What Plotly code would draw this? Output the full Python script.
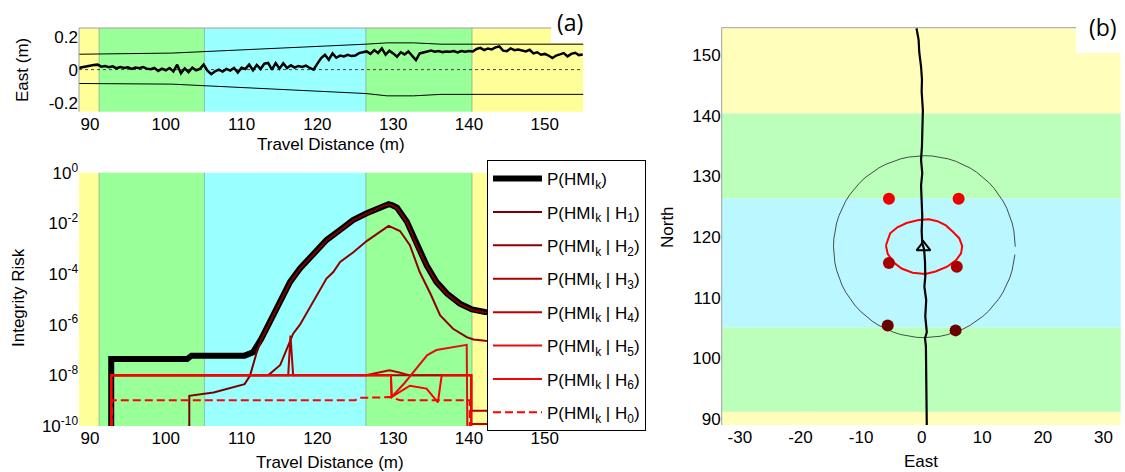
import numpy as np
import plotly.graph_objects as go

W, H = 1125, 472
FONT = "Liberation Sans, Arial, Helvetica, sans-serif"

# ---------------- data: panel (a) top ----------------
X_RANGE = [88.55, 155.08]
BAND_EDGES = [91.2, 105.1, 126.4, 140.4]          # travel distance / north of zone changes
BAND_COLORS_A = ["#FFFF99", "#99FF99", "#99FFFF", "#99FF99", "#FFFF99"]
BAND_COLORS_B = ["#FFFFBB", "#BBFFBB", "#BBF7FF", "#BBFFBB", "#FFFFBB"]

east_err = [0.010, 0.015, 0.020, 0.024, 0.028, 0.030, 0.018, 0.022, 0.015, 0.020,
            0.008, 0.016, 0.010, 0.014, 0.004, 0.012, 0.008, 0.015, 0.006, 0.002,
            0.010, -0.008, 0.006, -0.004, 0.010, -0.012, 0.030, -0.022, 0.008, -0.015,
            0.012, -0.004, 0.004, 0.030, -0.006, -0.028, -0.010, 0.000, -0.012, 0.004,
            -0.006, 0.010, -0.018, 0.012, 0.004, 0.030, -0.004, 0.028, 0.004, 0.036,
            0.040, 0.000, 0.040, 0.006, 0.038, 0.010, 0.026, 0.012, 0.022, 0.016,
            0.024, 0.010, 0.000, 0.036, 0.070, 0.090, 0.060, 0.098, 0.072, 0.085,
            0.080, 0.090, 0.082, 0.085, 0.100, 0.105, 0.110, 0.095, 0.118, 0.100,
            0.128, 0.090, 0.115, 0.098, 0.078, 0.105, 0.092, 0.110, 0.085, 0.058,
            0.098, 0.105, 0.112, 0.115, 0.108, 0.112, 0.106, 0.110, 0.108, 0.112,
            0.104, 0.112, 0.108, 0.112, 0.110, 0.125, 0.132, 0.118, 0.128, 0.122,
            0.135, 0.140, 0.115, 0.112, 0.128, 0.118, 0.122, 0.115, 0.110, 0.120,
            0.098, 0.105, 0.090, 0.095, 0.085, 0.070, 0.085, 0.092, 0.100, 0.080,
            0.095, 0.102, 0.088, 0.092]
east_dist = np.linspace(88.5, 155.0, len(east_err))

bound_dist = [88.3, 100.8, 126.4, 129.2, 132.7, 136.3, 155.3]
bound_upper = [0.093, 0.100, 0.154, 0.162, 0.162, 0.154, 0.154]
bound_lower = [-0.084, -0.088, -0.145, -0.159, -0.159, -0.150, -0.150]

# ---------------- data: panel (a) bottom (integrity risk) ----------------
LOW = 1e-11  # below axis floor
phmi_x = [92.8, 92.8, 102.8, 103.4, 110.4, 111.5, 112.6, 113.7, 115.1, 116.4, 117.7,
          119.5, 121.2, 123.0, 124.7, 126.5, 127.5, 128.3, 128.8, 129.4, 129.9, 130.5,
          131.8, 133.1, 134.4, 135.7, 137.1, 138.8, 140.4, 142.1, 146.0, 150.0, 155.0]
phmi_y = [LOW, 4.4e-8, 4.4e-8, 6.0e-8, 6.0e-8, 8.1e-8, 2.75e-7, 1.26e-6, 9.1e-6, 4.9e-5, 1.66e-4,
          6.5e-4, 2.2e-3, 5.5e-3, 1.35e-2, 2.5e-2, 3.4e-2, 4.2e-2, 5.2e-2, 5.75e-2, 5.2e-2, 4.2e-2,
          1.17e-2, 1.38e-3, 2.24e-4, 4.9e-5, 1.7e-5, 6.8e-6, 4.0e-6, 3.2e-6, 3.0e-6, 2.9e-6, 2.8e-6]

h1_x = [103.1, 103.1, 106.3, 110.4, 111.1, 112.0, 112.6, 113.7, 115.1, 116.4, 117.7,
        119.5, 121.2, 123.0, 124.7, 126.5, 127.5, 128.3, 128.8, 129.4, 129.9, 130.5,
        131.8, 133.1, 134.4, 135.7, 137.1, 138.8, 140.4, 142.1, 146.0, 150.0, 155.0]
h1_y = [LOW, 1.55e-9, 2.1e-9, 4.5e-9, 9.5e-9, 8.1e-8, 2.6e-7, 1.2e-6, 8.7e-6, 4.7e-5, 1.6e-4,
        6.2e-4, 2.1e-3, 5.3e-3, 1.3e-2, 2.4e-2, 3.3e-2, 4.0e-2, 5.0e-2, 5.5e-2, 5.0e-2, 4.0e-2,
        1.12e-2, 1.32e-3, 2.15e-4, 4.7e-5, 1.6e-5, 6.5e-6, 3.8e-6, 3.0e-6, 2.9e-6, 2.8e-6, 2.7e-6]

h2_x = [92.8, 92.8, 113.3, 113.7, 115.1, 116.8, 117.7, 118.6, 119.5, 120.3, 121.2, 122.1, 123.0,
        124.7, 126.5, 128.3, 129.4, 130.9, 132.2, 133.5, 134.9, 136.2, 137.9, 139.7, 140.6,
        142.1, 155.0]
h2_y = [LOW, 1e-8, 1e-8, 1.12e-8, 2.57e-8, 4.4e-7, 1.0e-6, 3.0e-6, 7.9e-6, 2.3e-5, 6.6e-5, 1.2e-4,
        3.0e-4, 7.1e-4, 2.0e-3, 4.7e-3, 7.9e-3, 5.0e-3, 1.38e-3, 1.2e-4, 1.7e-5, 2.3e-6, 6.9e-7,
        3.2e-7, 2.6e-7, 2.3e-7, 2.2e-7]

h3_x = [92.8, 92.8, 116.15, 116.45, 116.8, 140.3, 140.3, 155.0]
h3_y = [LOW, 1e-8, 1e-8, 3.7e-7, 1e-8, 1e-8, 4e-10, 4e-10]

h4_x = [92.8, 92.8, 126.4, 128.0, 129.5, 130.8, 132.2, 140.3, 140.3, 155.0]
h4_y = [LOW, 1e-8, 1e-8, 1.3e-8, 1.6e-8, 1.3e-8, 1e-8, 1e-8, 1.2e-10, 1.2e-10]

h5_x = [92.8, 92.8, 129.7, 129.8, 131.5, 133.1, 134.5, 135.7, 137.9, 139.7, 139.8]
h5_y = [LOW, 1e-8, 1e-8, 1.4e-9, 5e-9, 2e-8, 6.3e-8, 1e-7, 1.26e-7, 1.6e-7, LOW]

h6_x = [92.8, 92.8, 129.7, 129.8, 132.2, 134.4, 135.9, 136.4, 140.3, 140.3]
h6_y = [LOW, 1e-8, 1e-8, 1.4e-9, 3.9e-9, 3.0e-9, 8.5e-10, 1e-8, 1e-8, LOW]

h0_x = [92.9, 92.9, 125.0, 125.6, 128.7, 129.5, 130.9, 140.1, 140.1]
h0_y = [LOW, 1.05e-9, 1.05e-9, 1.3e-9, 1.35e-9, 1.4e-9, 1.05e-9, 1.05e-9, LOW]

risk_ticks = [1e-10, 1e-8, 1e-6, 1e-4, 1e-2, 1e0]
risk_tick_text = ["10<sup>-10</sup>", "10<sup>-8</sup>", "10<sup>-6</sup>", "10<sup>-4</sup>",
                  "10<sup>-2</sup>", "10<sup>0</sup>"]
dist_ticks = [90, 100, 110, 120, 130, 140, 150]

# ---------------- data: panel (b) ----------------
track_east = [0.85, 0.8, 0.75, 0.8, 0.7, 0.55, 0.85, 0.6, 0.75, 0.45, 0.6, 0.55, 0.4, 0.1, 0.0,
              0.1, 0.0, -0.1, 0.1, -0.1, 0.05, 0.1, 0.2, 0.0, 0.05, -0.1, -0.4, -0.5, -0.85]
track_north = [88.8, 92, 96, 99, 102, 103.3, 104.3, 106.9, 109.6, 111.8, 113.5, 116.0, 118.0, 119.0,
               121, 123.4, 126, 128.5, 130.5, 132.7, 135, 138, 140.9, 144, 146, 148.1, 150.5, 152.5, 154.4]
vehicle_east, vehicle_north = [0.3], [118.3]

ellipse_east = [-5.9, -5.2, -4.0, -2.5, -0.5, 1.2, 2.6, 4.0, 5.1, 6.2, 6.7, 6.5, 5.7, 4.2, 2.3,
                0.6, -1.5, -3.3, -4.6, -5.6, -5.9]
ellipse_north = [118.6, 120.6, 121.6, 122.3, 122.8, 122.9, 122.6, 121.9, 120.9, 119.8, 118.5, 117.3,
                 116.2, 115.1, 114.3, 113.9, 114.1, 114.8, 115.8, 117.2, 118.6]

circle_center = (0.45, 118.4)
circle_radius = 15.0
circle_start_deg, circle_end_deg = 0.0, 355.0

lm_east = [-5.4, 6.1, -5.4, 5.8, -5.6, 5.6]
lm_north = [126.3, 126.3, 115.7, 115.1, 105.4, 104.6]
lm_colors = ["#EE0000", "#EE0000", "#A80000", "#A80000", "#6A0000", "#6A0000"]

B_X_RANGE = [-33.0, 32.85]
B_Y_RANGE = [89.0, 154.5]

# ---------------- figure ----------------
def px_x(p):
    return p / W

def px_y(p):
    return 1 - p / H

fig = go.Figure()

# top panel (a)
fig.add_trace(go.Scatter(x=X_RANGE, y=[0, 0], mode="lines", xaxis="x", yaxis="y",
                         line=dict(color="#444444", width=1, dash="dot"), showlegend=False))
fig.add_trace(go.Scatter(x=bound_dist, y=bound_upper, mode="lines", xaxis="x", yaxis="y",
                         line=dict(color="black", width=1), showlegend=False))
fig.add_trace(go.Scatter(x=bound_dist, y=bound_lower, mode="lines", xaxis="x", yaxis="y",
                         line=dict(color="black", width=1), showlegend=False))
fig.add_trace(go.Scatter(x=east_dist, y=east_err, mode="lines", xaxis="x", yaxis="y",
                         line=dict(color="black", width=2.5), showlegend=False))

# bottom panel (a)
series = [
    ("P(HMI<sub>k</sub>)", phmi_x, phmi_y, "black", 6, "solid"),
    ("P(HMI<sub>k</sub> | H<sub>1</sub>)", h1_x, h1_y, "#7A0000", 2, "solid"),
    ("P(HMI<sub>k</sub> | H<sub>2</sub>)", h2_x, h2_y, "#8E0000", 2, "solid"),
    ("P(HMI<sub>k</sub> | H<sub>3</sub>)", h3_x, h3_y, "#A80000", 2, "solid"),
    ("P(HMI<sub>k</sub> | H<sub>4</sub>)", h4_x, h4_y, "#C00000", 2, "solid"),
    ("P(HMI<sub>k</sub> | H<sub>5</sub>)", h5_x, h5_y, "#E01010", 2, "solid"),
    ("P(HMI<sub>k</sub> | H<sub>6</sub>)", h6_x, h6_y, "#FF0000", 2, "solid"),
    ("P(HMI<sub>k</sub> | H<sub>0</sub>)", h0_x, h0_y, "#FF0000", 2, "8px,4px"),
]
for i, (name, xs, ys, col, wd, dash) in enumerate(series):
    fig.add_trace(go.Scatter(x=xs, y=ys, mode="lines", name=name, xaxis="x2", yaxis="y2",
                             legendgroup=f"g{i}",
                             line=dict(color=col, width=wd, dash=dash)))

# panel (b)
theta = np.deg2rad(np.arange(circle_start_deg, circle_end_deg + 0.1, 5.0))
fig.add_trace(go.Scatter(x=circle_center[0] + circle_radius * np.cos(theta),
                         y=circle_center[1] + circle_radius * np.sin(theta),
                         mode="lines", xaxis="x3", yaxis="y3",
                         line=dict(color="#222222", width=0.8), showlegend=False))
fig.add_trace(go.Scatter(x=ellipse_east, y=ellipse_north, mode="lines", xaxis="x3", yaxis="y3",
                         line=dict(color="#FF0000", width=2), showlegend=False))
fig.add_trace(go.Scatter(x=track_east, y=track_north, mode="lines", xaxis="x3", yaxis="y3",
                         line=dict(color="black", width=2.2), showlegend=False))
fig.add_trace(go.Scatter(x=lm_east, y=lm_north, mode="markers", xaxis="x3", yaxis="y3",
                         marker=dict(color=lm_colors, size=12), showlegend=False))
fig.add_trace(go.Scatter(x=vehicle_east, y=vehicle_north, mode="markers", xaxis="x3", yaxis="y3",
                         marker=dict(symbol="triangle-up-open", color="black", size=12,
                                     line=dict(width=2, color="black")), showlegend=False))

shapes = []
edges = [X_RANGE[0]] + BAND_EDGES + [X_RANGE[1]]
for yref in ["y domain", "y2 domain"]:
    xref = "x" if yref == "y domain" else "x2"
    for k in range(5):
        shapes.append(dict(type="rect", xref=xref, yref=yref, x0=edges[k], x1=edges[k + 1],
                           y0=0, y1=1, fillcolor=BAND_COLORS_A[k], line=dict(width=0),
                           layer="below"))
    for e in BAND_EDGES:
        shapes.append(dict(type="line", xref=xref, yref=yref, x0=e, x1=e, y0=0, y1=1,
                           line=dict(color="rgba(110,140,130,0.55)", width=1), layer="below"))
bedges = [B_Y_RANGE[0]] + BAND_EDGES + [B_Y_RANGE[1]]
for k in range(5):
    shapes.append(dict(type="rect", xref="x3 domain", yref="y3", x0=0, x1=1,
                       y0=bedges[k], y1=bedges[k + 1], fillcolor=BAND_COLORS_B[k],
                       line=dict(width=0), layer="below"))

ta = dict(l=79, r=583.3, t=28, b=111.7)
rb = dict(l=721.7, r=1120.7, t=27.7, b=425)
for box in (ta, rb):
    shapes.append(dict(type="line", xref="paper", yref="paper", x0=px_x(box["l"]), x1=px_x(box["r"]),
                       y0=px_y(box["t"]), y1=px_y(box["t"]), line=dict(color="#A0A0A0", width=1)))
    shapes.append(dict(type="line", xref="paper", yref="paper", x0=px_x(box["l"]), x1=px_x(box["l"]),
                       y0=px_y(box["t"]), y1=px_y(box["b"]), line=dict(color="#A0A0A0", width=1)))

shapes.append(dict(type="rect", xref="paper", yref="paper", x0=px_x(551), x1=px_x(602),
                   y0=px_y(43), y1=1, fillcolor="white", line=dict(width=0), layer="above"))
shapes.append(dict(type="rect", xref="paper", yref="paper", x0=px_x(1076), x1=1,
                   y0=px_y(53), y1=1, fillcolor="white", line=dict(width=0), layer="above"))

tick_font = dict(family=FONT, size=17, color="black")

def ann(text, x, y, angle=0, size=17, family=FONT):
    return dict(text=text, x=px_x(x), y=px_y(y), xref="paper", yref="paper", showarrow=False,
                xanchor="center", yanchor="middle", textangle=angle,
                font=dict(family=family, size=size, color="black"))

annotations = [
    ann("East (m)", 22, 70, -90),
    ann("Travel Distance (m)", 331, 145),
    ann("Integrity Risk", 18, 298, -90),
    ann("Travel Distance (m)", 330, 462),
    ann("North", 668, 227, -90),
    ann("East", 921, 461),
    ann("(a)", 570, 22, size=23, family="Open Sans, sans-serif"),
    ann("(b)", 1103, 27, size=23, family="Open Sans, sans-serif"),
]

axis_common = dict(showgrid=False, zeroline=False, showline=False, ticks="", tickfont=tick_font,
                   automargin=False)

fig.update_layout(
    width=W, height=H, autosize=False,
    margin=dict(l=0, r=0, t=0, b=0, pad=0, autoexpand=False),
    paper_bgcolor="white", plot_bgcolor="white",
    xaxis=dict(domain=[px_x(79), px_x(583.3)], anchor="y", range=X_RANGE,
               tickvals=dist_ticks, **axis_common),
    yaxis=dict(domain=[px_y(111.7), px_y(28)], anchor="x", range=[-0.255, 0.252],
               tickvals=[-0.2, 0, 0.2], ticktext=["-0.2", "0", "0.2"], **axis_common),
    xaxis2=dict(domain=[px_x(79), px_x(583.3)], anchor="y2", range=X_RANGE,
                tickvals=dist_ticks, **axis_common),
    yaxis2=dict(domain=[px_y(426), px_y(172.7)], anchor="x2", type="log", range=[-10, 0],
                tickvals=risk_ticks, ticktext=risk_tick_text, **axis_common),
    xaxis3=dict(domain=[px_x(721.7), px_x(1120.7)], anchor="y3", range=B_X_RANGE,
                tickvals=[-30, -20, -10, 0, 10, 20, 30],
                ticktext=["-30", "-20", "-10", "0", "10", "20", "30"], **axis_common),
    yaxis3=dict(domain=[px_y(425), px_y(27.7)], anchor="x3", range=B_Y_RANGE,
                tickvals=[90, 100, 110, 120, 130, 140, 150], **axis_common),
    legend=dict(x=px_x(487), y=px_y(160), xanchor="left", yanchor="top",
                bgcolor="white", bordercolor="black", borderwidth=1,
                font=dict(family=FONT, size=17, color="black"),
                tracegroupgap=8.3, itemwidth=49),
    shapes=shapes,
    annotations=annotations,
)

fig.write_html("out.html", config={"responsive": False, "displayModeBar": False},
               post_script="document.body.style.margin='0';document.body.style.overflow='hidden';"
                           "document.documentElement.style.overflow='hidden';")
